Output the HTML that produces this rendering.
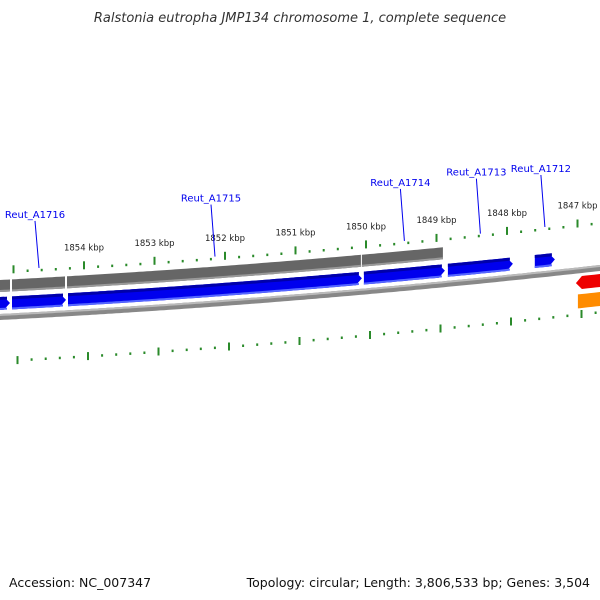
<!DOCTYPE html>
<html><head><meta charset="utf-8"><style>
html,body{margin:0;padding:0;background:#fff}
svg{display:block;font-family:"DejaVu Sans","Liberation Sans",sans-serif}
</style></head><body>
<svg id="map" width="600" height="600" viewBox="0 0 600 600" xmlns="http://www.w3.org/2000/svg">
<text x="300" y="22" text-anchor="middle" font-size="13" font-style="italic" fill="#333">Ralstonia eutropha JMP134 chromosome 1, complete sequence</text>
<g id="tracks"></g>
<text x="9" y="587" font-size="12.5" fill="#111">Accession: NC_007347</text>
<text x="590" y="587" text-anchor="end" font-size="12.5" fill="#111">Topology: circular; Length: 3,806,533 bp; Genes: 3,504</text>
</svg>
<script>
const kbpTicks = [1855, 1854, 1853, 1852, 1851, 1850, 1849, 1848, 1847, 1846];
const greyStarts = [1855191, 1855021, 1854241, 1850058];
const greyEnds   = [1855049, 1854269, 1850072, 1848909];
const blueStarts = [1855333, 1855021, 1854227, 1850030, 1848838, 1847605];
const blueEnds   = [1855049, 1854255, 1850058, 1848881, 1847917, 1847321];
const redStarts = [1847023]; const redEnds = [1846000];
const orangeStarts = [1846995]; const orangeEnds = [1846000];
const geneNames = ["Reut_A1716", "Reut_A1715", "Reut_A1714", "Reut_A1713", "Reut_A1712"];
const geneIndex = [1, 2, 3, 4, 5];

const NS = "http://www.w3.org/2000/svg";
const g = document.getElementById("tracks");
function xOf(bp){ return 84 + (1854000 - bp) * 0.0705; }
function yOf(x){ return 317 - 0.0667 * x - 5e-5 * x * (x - 300); }
function mk(tag, attrs){ const e = document.createElementNS(NS, tag); for (const k in attrs) e.setAttribute(k, attrs[k]); g.appendChild(e); return e; }

function band(x1, x2, o1, o2, head, dir){
  // polygon band between offsets o1 (top) and o2 (bottom); optional arrow head
  const pts = [];
  let a = Math.max(x1, -20), b = Math.min(x2, 640);
  const hs = head ? 6 : 0;
  const bodyA = dir < 0 ? a + hs : a, bodyB = dir > 0 ? b - hs : b;
  for (let x = bodyA; x <= bodyB; x += 4) pts.push([x, yOf(x) + o1]);
  pts.push([bodyB, yOf(bodyB) + o1]);
  if (dir > 0 && head) pts.push([b, yOf(b) + (o1 + o2) / 2]);
  for (let x = bodyB; x >= bodyA; x -= 4) pts.push([x, yOf(x) + o2]);
  pts.push([bodyA, yOf(bodyA) + o2]);
  if (dir < 0 && head) pts.push([a, yOf(a) + (o1 + o2) / 2]);
  return pts.map(p => p[0].toFixed(1) + "," + p[1].toFixed(1)).join(" ");
}

// backbone
const bb = mk("polygon", {points: band(-20, 640, -3, 3, false, 0), fill: "#888"});


const bb2 = mk("polygon", {points: band(-20, 640, -3, -1, false, 0), fill: "#bbb"});



// grey features
for (let i = 0; i < greyStarts.length; i++){
  const x1 = xOf(greyStarts[i]), x2 = xOf(greyEnds[i]);
  const p = mk("polygon", {points: band(x1, x2, -37, -25, false, 1), fill: "#666"});
  
  
  const p2 = mk("polygon", {points: band(x1, x2, -27, -25, false, 1), fill: "#999"});
  
  
}
// blue genes
for (let i = 0; i < blueStarts.length; i++){
  const x1 = xOf(blueStarts[i]), x2 = xOf(blueEnds[i]);
  const p = mk("polygon", {points: band(x1, x2, -20, -7, true, 1), fill: "#0000ee"});
  
  
  const p2 = mk("polygon", {points: band(x1, x2 - 3, -20, -17, false, 1), fill: "#0000aa"});
  
  
  const p3 = mk("polygon", {points: band(x1, x2 - 3, -9, -7, false, 1), fill: "#5566ff"});
  
  
}
for (let i = 0; i < redStarts.length; i++){
  const p = mk("polygon", {points: band(xOf(redStarts[i]), xOf(redEnds[i]), 6, 19, true, -1), fill: "#ee0000"});
  
  
}
for (let i = 0; i < orangeStarts.length; i++){
  const p = mk("polygon", {points: band(xOf(orangeStarts[i]), xOf(orangeEnds[i]), 24, 38, false, -1), fill: "#ff8c00"});
  
  
}

// tick rings
for (let k = 0; k < kbpTicks.length; k++){
  for (let s = 0; s < 5; s++){
    const bp = kbpTicks[k] * 1000 - s * 200;
    const x = xOf(bp);
    if (x < -5 || x > 605) continue;
    const y = yOf(x) - 44;
    const big = s === 0;
    const t = mk("rect", {x: (x - 1).toFixed(1), y: (big ? y - 7 : y - 2).toFixed(1), width: 2, height: big ? 8 : 2.5, fill: "#2a8a2a"});
    
    
    const x2 = x + 4, y2 = yOf(x2) + 44;
    const t2 = mk("rect", {x: (x2 - 1).toFixed(1), y: (big ? y2 - 4 : y2 - 1).toFixed(1), width: 2, height: big ? 8 : 2.5, fill: "#2a8a2a"});
    
    
    if (big && x > 40 && x < 600){
      const lb = mk("text", {x: x.toFixed(1), y: (y - 18).toFixed(1), "text-anchor": "middle", "font-size": "8.5", fill: "#222"});
      lb.textContent = kbpTicks[k] + " kbp";
      
      
    }
  }
}

// gene labels
const labelRise = [50, 55, 55, 58, 55];
for (let i = 0; i < geneNames.length; i++){
  const j = geneIndex[i];
  const xm = (xOf(blueStarts[j]) + xOf(blueEnds[j])) / 2;
  const yb = yOf(xm) - 47;
  const ty = yb - labelRise[i];
  const ln = mk("line", {x1: (xm - 4).toFixed(1), y1: (ty + 3).toFixed(1), x2: xm.toFixed(1), y2: yb.toFixed(1), stroke: "#0000ee", "stroke-width": 1});
  
  
  const tx = mk("text", {x: (xm - 4).toFixed(1), y: ty.toFixed(1), "text-anchor": "middle", "font-size": "10", fill: "#0000ee"});
  tx.textContent = geneNames[i];
  
  
}
</script>
</body></html>
